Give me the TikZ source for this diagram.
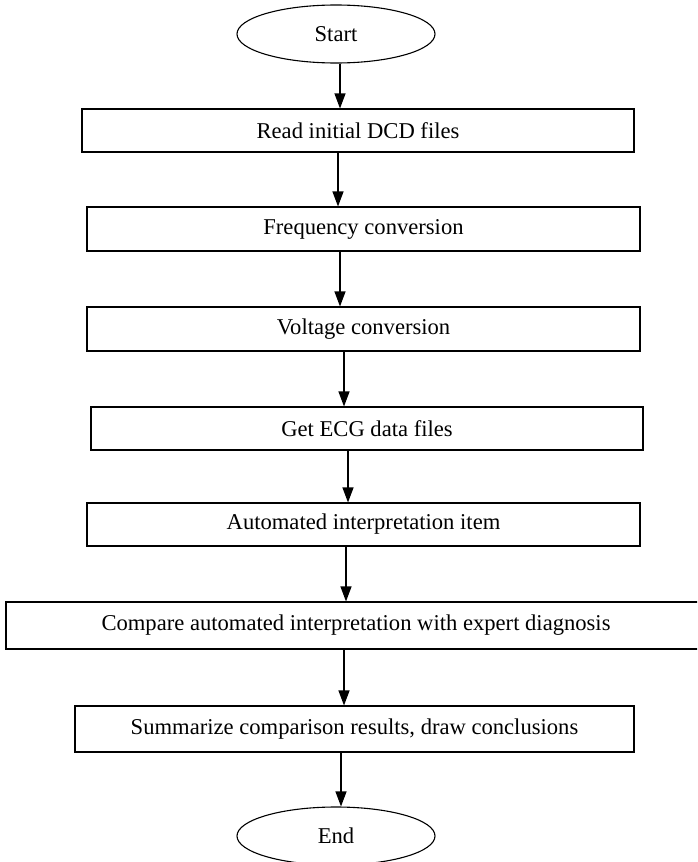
\documentclass[tikz,border=0pt]{standalone}
\usepackage{fontspec}
\setmainfont{Liberation Serif}
\usetikzlibrary{shapes.geometric,arrows.meta}
\begin{document}
\begin{tikzpicture}[
  x=1pt, y=-1pt,
  line width=1.1pt,
  font=\fontsize{22.6}{27}\selectfont,
  term/.style={draw, ellipse, minimum width=198pt, minimum height=58pt, inner sep=0pt},
  stepbox/.style={draw, minimum height=44pt, inner sep=0pt},
  arr/.style={-{Triangle[width=11pt,length=15pt]}}
]
  \clip (0,0) rectangle (697,862);
  \node[term] (start) at (336,34) {Start};
  \node[stepbox, minimum width=552pt, minimum height=43pt] (read) at (358,130.5) {Read initial DCD files};
  \node[stepbox, minimum width=553pt] (freq) at (363.5,229) {Frequency conversion};
  \node[stepbox, minimum width=553pt] (volt) at (363.5,329) {Voltage conversion};
  \node[stepbox, minimum width=552pt, minimum height=43pt] (ecg) at (367,428.5) {Get ECG data files};
  \node[stepbox, minimum width=553pt, minimum height=43pt] (auto) at (363.5,524.5) {Automated interpretation item};
  \node[stepbox, minimum width=700pt, minimum height=47pt] (comp) at (356,625.5) {Compare automated interpretation with expert diagnosis};
  \node[stepbox, minimum width=559pt, minimum height=46pt] (summ) at (354.5,729) {Summarize comparison results, draw conclusions};
  \node[term] (end) at (336,836) {End};
  % connectors
  \draw[arr] (start.south -| 340,0) -- (read.north -| 340,0);
  \draw[arr] (read.south -| 338,0) -- (freq.north -| 338,0);
  \draw[arr] (freq.south -| 340,0) -- (volt.north -| 340,0);
  \draw[arr] (volt.south -| 344,0) -- (ecg.north -| 344,0);
  \draw[arr] (ecg.south -| 348,0) -- (auto.north -| 348,0);
  \draw[arr] (auto.south -| 346,0) -- (comp.north -| 346,0);
  \draw[arr] (comp.south -| 344,0) -- (summ.north -| 344,0);
  \draw[arr] (summ.south -| 341,0) -- (end.north -| 341,0);
\end{tikzpicture}
\end{document}
